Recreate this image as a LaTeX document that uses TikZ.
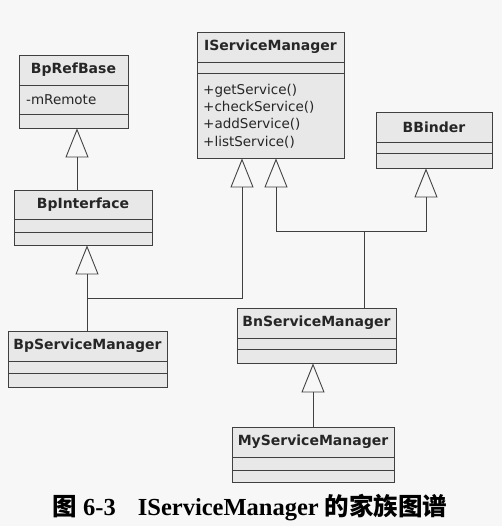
\documentclass[tikz,border=0pt]{standalone}
\usepackage{fontspec}
\setmainfont{DejaVu Sans}
\newfontfamily\capfont{Liberation Serif}
\newfontfamily\cjk{Noto Sans CJK SC}
\usetikzlibrary{arrows.meta}
\definecolor{paper}{gray}{0.97}
\definecolor{boxfill}{gray}{0.91}
\definecolor{umlline}{gray}{0.25}
\tikzset{
  classbox/.style={draw=umlline, fill=boxfill, line width=0.9pt, inner sep=0pt},
  classline/.style={draw=umlline, line width=0.9pt},
  classname/.style={font=\bfseries\fontsize{14}{16}\selectfont, text=black!85},
  members/.style={font=\fontsize{13.5}{17.3}\selectfont, align=left, anchor=west, inner sep=0pt, text=black!85},
  inherit/.style={classline, -{Triangle[open, length=29pt, width=23pt]}}
}
\begin{document}
\begin{tikzpicture}[x=1pt, y=-1pt]
  \useasboundingbox[fill=paper] (0,0) rectangle (502,526);
  \foreach \nm/\xa/\ya/\xb/\yb/\da/\db/\ttl in {
      bprefbase/19/55/128/128/85/114/BpRefBase,
      iservicemanager/197/32/344/158/62/73/IServiceManager,
      bbinder/376/112/492/168/142/153/BBinder,
      bpinterface/14/190/152/245/219/232/BpInterface,
      bpservicemanager/8/331/167/387/361/373/BpServiceManager,
      bnservicemanager/237/308/396/363/338/349/BnServiceManager,
      myservicemanager/232/427/394/482/457/470/MyServiceManager} {
    \node[classbox, minimum width={(\xb-\xa)*1pt}, minimum height={(\yb-\ya)*1pt}] (\nm) at ({(\xa+\xb)/2},{(\ya+\yb)/2}) {};
    \node[classname] at ({(\xa+\xb)/2},{(\ya+\da)/2}) {\ttl};
    \draw[classline] (\xa,\da) -- (\xb,\da) (\xa,\db) -- (\xb,\db);
  }
  \node[members] (mremote) at (26,100) {-mRemote};
  \node[members] (ismops) at (203,116) {+getService()\\+checkService()\\+addService()\\+listService()};
  \coordinate (bpjoin) at (87,298);
  \coordinate (bnjoin) at (364,231);
  \draw[inherit] ([xshift=-6pt]bpinterface.north) -- ([xshift=3.5pt]bprefbase.south);
  \draw[inherit] ([xshift=-0.5pt]bpservicemanager.north) -- ([xshift=4pt]bpinterface.south);
  \draw[inherit] (bpjoin) -| ([xshift=-28.5pt]iservicemanager.south);
  \draw[classline] (bnservicemanager.north -| bnjoin) -- (bnjoin);
  \draw[inherit] (bnjoin) -| ([xshift=5.5pt]iservicemanager.south);
  \draw[inherit] (bnjoin) -| ([xshift=-8pt]bbinder.south);
  \draw[inherit] (myservicemanager.north) -- ([xshift=-3.5pt]bnservicemanager.south);
  \node[font=\capfont\bfseries\fontsize{24.5}{28}\selectfont] (caption) at (250,508) {{\cjk 图} 6-3\hspace{0.9em}IServiceManager {\cjk 的家族图谱}};
\end{tikzpicture}
\end{document}
